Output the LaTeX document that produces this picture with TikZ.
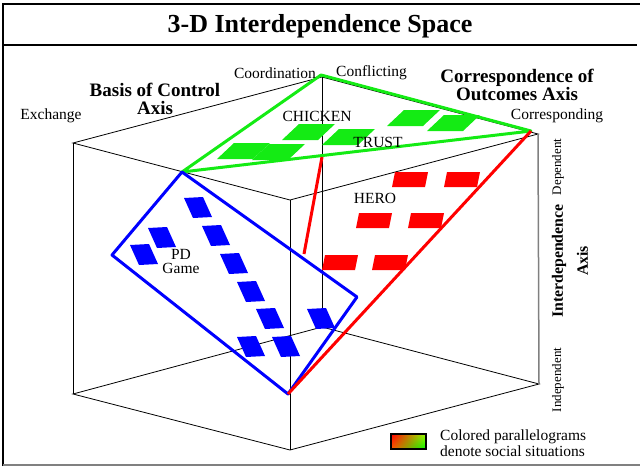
\documentclass[tikz,border=0pt]{standalone}
\usepackage{fontspec}
\setmainfont{Liberation Serif}
\usetikzlibrary{shadings}
\definecolor{sitgreen}{RGB}{20,235,20}
\newcommand\lblfont{\fontsize{15.5}{14}\selectfont}
\newcommand\axfont{\fontsize{19}{18}\selectfont\bfseries}
\newcommand\ttlfont{\fontsize{26}{28}\selectfont\bfseries}
\newcommand\gpara[2]{\fill[sitgreen] (#1,#2) -- ++(17,-16) -- ++(36,0) -- ++(-17,16) -- cycle;}
\newcommand\rpara[2]{\fill[red] (#1,#2) -- ++(3,-15) -- ++(33,0) -- ++(-3,15) -- cycle;}
\newcommand\bpara[2]{\fill[blue] (#1,#2) -- ++(19,-1) -- ++(9,20) -- ++(-19,1) -- cycle;}
\tikzset{
  lbl/.style={inner sep=0pt, font=\lblfont},
  axlbl/.style={inner sep=0pt, align=center, font=\axfont},
  plane/.style={line width=3pt, line join=round}
}
\begin{document}
\begin{tikzpicture}[x=1pt, y=-1pt]
      \useasboundingbox (0,0) rectangle (640,466);
      % frame
      \draw[line width=2.5pt] (3,466) -- (3,4) -- (640,4);
      \draw[line width=2.5pt] (3,45) -- (637,45);
      \draw[line width=2pt, gray] (3,465) -- (640,465);
      \node[font=\ttlfont, inner sep=0pt] (title) at (320,26) {3-D Interdependence Space};
      % cube corners
      \coordinate (tl) at (73,143);
      \coordinate (tb) at (322,77);
      \coordinate (tr) at (538,134);
      \coordinate (tf) at (290,200);
      \coordinate (bl) at (73,394);
      \coordinate (bb) at (322,327);
      \coordinate (br) at (539,384);
      \coordinate (bf) at (290,450);
      \begin{scope}[line width=0.8pt]
        \draw (tl) -- (tb) -- (tr) -- (tf) -- cycle;
        \draw (bl) -- (bb) -- (br) -- (bf) -- cycle;
        \draw (tl) -- (bl);
        \draw (tb) -- (bb);
        \draw (tf) -- (bf);
        \draw[gray, line width=1.5pt] (tr) -- (br);
      \end{scope}
      % situations
      \gpara{217}{159}
      \gpara{252}{160}
      \gpara{282}{140}
      \gpara{322}{145}
      \gpara{387}{126}
      \gpara{427}{131}
      \rpara{392}{187}
      \rpara{444}{187}
      \rpara{356}{228}
      \rpara{408}{228}
      \rpara{322}{270}
      \rpara{372}{270}
      \bpara{184}{198}
      \bpara{148}{228}
      \bpara{202}{226}
      \bpara{130}{245}
      \bpara{220}{254}
      \bpara{237}{282}
      \bpara{256}{309}
      \bpara{307}{309}
      \bpara{237}{337}
      \bpara{272}{337}
      % planes
      \coordinate (coord) at (321,75);
      \coordinate (mid) at (182,172);
      \coordinate (corr) at (531,131);
      \coordinate (pdl) at (112,255);
      \coordinate (low) at (288,394);
      \coordinate (pdr) at (357,297);
      \coordinate (rtop) at (322,157);
      \coordinate (rbot) at (304,254);
      \draw[plane, sitgreen] (coord) -- (mid) -- (corr) -- cycle;
      \draw[plane, blue] (mid) -- (pdl) -- (low) -- (pdr) -- cycle;
      \draw[plane, red] (corr) -- (low);
      \draw[plane, red] (rtop) -- (rbot);
      % labels
      \node[lbl, anchor=east] (coordl) at (316,73) {Coordination};
      \node[lbl, anchor=west] (confl) at (336,73) {Conflicting};
      \node[lbl] (exch) at (51,116) {Exchange};
      \node[lbl] (corrl) at (557,116) {Corresponding};
      \node[axlbl] (basis) at (155,99) {Basis of Control\\Axis};
      \node[axlbl] (outc) at (517,85) {Correspondence of\\Outcomes Axis};
      \node[lbl] (chicken) at (317,116) {CHICKEN};
      \node[lbl] (trust) at (378,142) {TRUST};
      \node[lbl] (hero) at (375,198) {HERO};
      \node[lbl, align=center] (pd) at (181,261) {PD\\Game};
      \node[inner sep=0pt, rotate=90, font=\fontsize{13}{14}\selectfont] (dep) at (558,167) {Dependent};
      \node[inner sep=0pt, rotate=90, font=\fontsize{13}{14}\selectfont] (indep) at (558,380) {Independent};
      \node[inner sep=0pt, rotate=90, align=center, font=\fontsize{15.8}{25}\selectfont\bfseries] (interd) at (570,261) {Interdependence\\Axis};
      % legend
      \shade[upper left=red, lower left=orange!70!red, upper right=yellow!60!green, lower right=green] (391,434) rectangle (426,449);
      \draw[line width=1.2pt] (391,434) rectangle (426,449);
      \node[lbl, anchor=north west, align=left] (legend) at (440,430) {Colored parallelograms\\denote social situations};
\end{tikzpicture}
\end{document}
